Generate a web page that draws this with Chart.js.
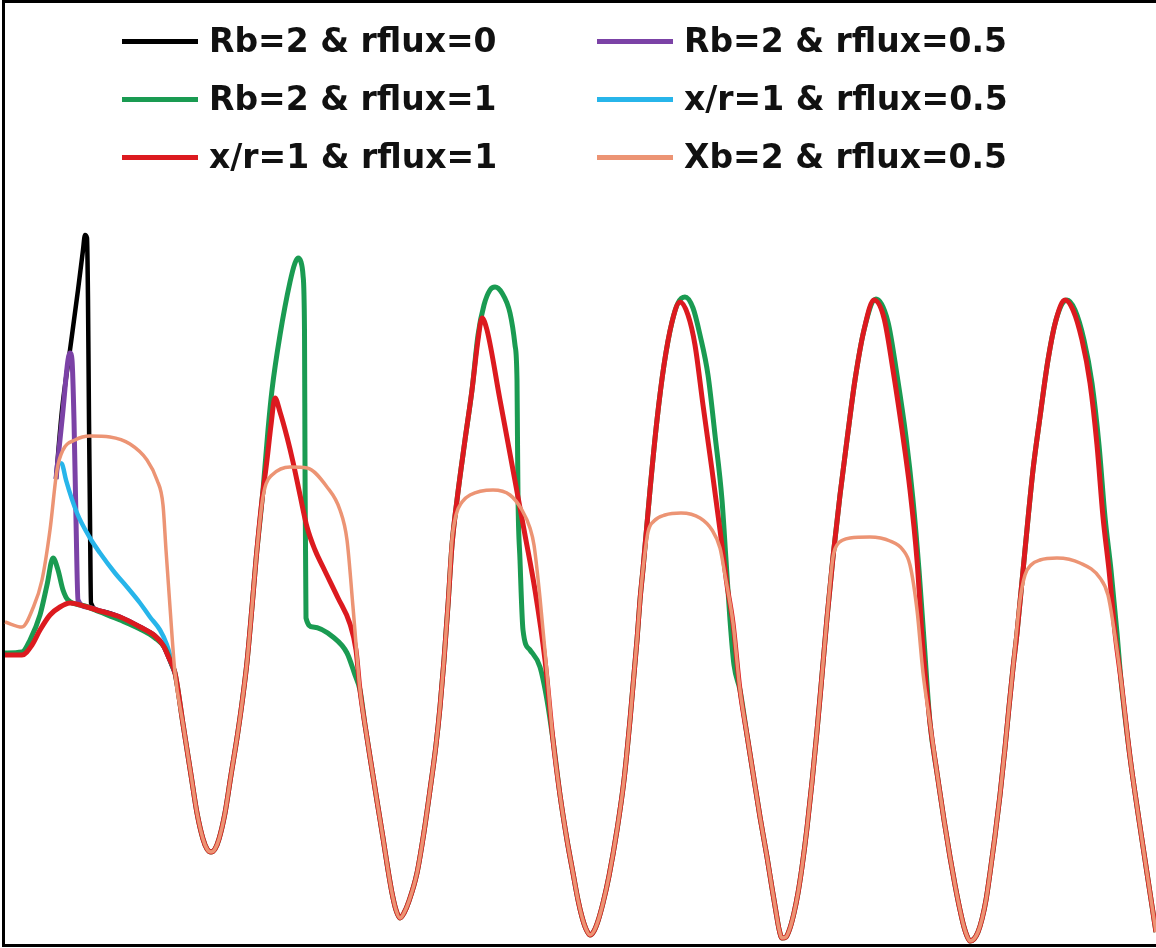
<!DOCTYPE html>
<html>
<head>
<meta charset="utf-8">
<script src="https://cdn.jsdelivr.net/npm/chart.js@4/dist/chart.umd.min.js"></script>
<style>
  html, body { margin: 0; padding: 0; background: #fff; overflow: hidden; }
  #wrap { position: relative; width: 1156px; height: 948px; overflow: hidden; }
  .edge { position: absolute; background: #000; }
  #edgeTop { left: 2px; top: 0; width: 1160px; height: 3px; }
  #edgeLeft { left: 2px; top: 0; width: 3px; height: 947px; }
  #edgeBottom { left: 2px; top: 944px; width: 1160px; height: 3px; }
  #plot { position: absolute; left: 0; top: 0; }
  #legend {
    position: absolute; left: 122px; top: 12px;
    display: grid; grid-template-columns: 475px auto;
    font-family: "DejaVu Sans", sans-serif; font-weight: bold; font-size: 33px;
    color: #111;
  }
  #legend .item { display: flex; align-items: center; height: 58px; line-height: 58px; white-space: nowrap; }
  #legend .swatch { display: inline-block; width: 76px; height: 5px; margin-right: 11px; }
</style>
</head>
<body>
<div id="wrap">
  <div class="edge" id="edgeTop"></div>
  <div class="edge" id="edgeLeft"></div>
  <div class="edge" id="edgeBottom"></div>
  <canvas id="plot" width="1156" height="948"></canvas>
  <div id="legend"></div>
</div>
<script>
// troughs shared by every run once the first transient is over, [time, value]
const dip1 = [[18.3,22.4],[19.1,17.3],[19.7,13.5],[20.3,10.9],[20.7,9.9],[21.1,9.6],[21.5,9.9],[21.9,10.9],
  [22.5,13.5],[23.1,17.3],[23.7,21.0],[24.2,24.5],[24.7,28.6],[25.2,34.1],[25.6,38.8]];
const dip2 = [[36.5,22.3],[37.0,19.1],[37.7,14.7],[38.3,11.0],[38.8,7.8],[39.2,5.5],[39.6,3.8],[40.0,3.0],
  [40.4,3.5],[40.9,4.7],[41.7,7.5],[42.4,11.6],[43.0,15.8],[43.6,20.3],[44.0,24.1],[44.4,28.8],[44.8,34.3]];
const dip3 = [[55.3,20.8],[56.0,15.3],[56.7,10.8],[57.3,7.5],[57.8,4.8],[58.2,3.1],[58.6,1.9],[59.0,1.3],
  [59.4,1.7],[59.8,2.7],[60.3,4.5],[60.9,7.2],[61.7,11.8],[62.4,16.8],[63.0,22.8],[63.7,30.8],[64.0,34.8]];
const dip4 = [[74.7,21.3],[75.3,17.5],[76.0,13.1],[76.7,9.1],[77.2,6.0],[77.6,3.6],[77.9,1.9],[78.2,1.0],
  [78.6,1.1],[79.0,2.0],[79.4,3.5],[79.8,5.5],[80.2,8.1],[80.7,12.0],[81.2,16.6],[81.7,21.7],[82.2,27.3],[82.7,33.0]];
const dip5 = [[93.0,22.5],[93.7,17.5],[94.4,12.8],[95.0,9.1],[95.5,6.3],[96.0,3.8],[96.4,2.1],[96.7,1.2],
  [97.0,0.7],[97.4,0.9],[97.8,1.6],[98.2,2.9],[98.6,4.8],[99.0,7.5],[99.5,11.2],[100.0,15.3],[100.5,20.0],
  [100.9,24.1],[101.3,28.0]];
const tail = [[112.1,26.8],[113.0,19.1],[113.9,12.8],[114.7,7.5],[115.2,4.2],[115.6,1.6]];

// first transient, only where the runs differ
const rb2Flux0 = [
  [5.6,46.9],[6.2,53.8],[7.0,59.8],[7.8,65.8],[8.3,69.8],[8.5,71.3],[8.7,71.0],[8.8,64.8],
  [8.9,52.8],[9.0,42.8],[9.1,34.5],[10.0,33.7],[12.0,33.1],[14.0,32.1],[15.5,31.2],[16.3,30.3],
  [16.9,29.0],[17.5,27.5]
];
const rb2Flux05 = [
  [5.6,46.9],[6.2,52.8],[7.0,59.5],[7.2,58.8],[7.4,52.8],[7.6,42.8],[7.8,34.8],[8.7,34.1],
  [10.0,33.7],[12.0,33.1],[14.0,32.1],[15.5,31.2],[16.3,30.3],[16.9,29.0],[17.5,27.5]
];
const xr1Flux05 = [
  [6.0,48.5],[6.2,48.4],[6.6,46.8],[7.7,43.5],[9.0,41.0],[10.0,39.5],[11.5,37.5],[12.7,36.1],
  [14.0,34.5],[15.0,33.1],[16.0,31.8],[16.7,30.3],[17.5,27.5]
];

// Rb=2 & rflux=1
const rb2Flux1 = [
  [0.5,29.5],[2.2,29.6],[3.0,30.8],[4.0,33.3],[4.7,36.3],[5.3,39.0],[5.8,37.8],[6.3,35.8],
  [6.8,34.8],[8.5,34.2],[10.0,33.6],[12.0,32.8],[14.0,31.9],[15.5,31.0],[16.5,30.0],[17.2,28.3],[17.5,27.5],
  ...dip1,
  [26.3,45.8],[26.8,51.8],[27.2,55.8],[28.0,61.3],[29.0,66.6],[29.5,68.5],[29.8,69.0],[30.1,68.6],
  [30.3,67.3],[30.45,61.8],[30.5,48.5],[30.6,33.0],[31.3,32.1],[33.3,31.1],[34.7,29.5],[35.5,27.3],[36.0,25.8],
  ...dip2,
  [45.2,40.3],[45.7,44.8],[46.5,50.8],[47.2,55.8],[47.8,61.3],[48.4,64.3],[49.0,65.8],[49.5,66.1],
  [50.2,65.5],[51.0,63.5],[51.5,60.3],[51.7,56.8],[51.75,50.8],[51.8,45.1],[52.0,38.8],[52.3,31.8],
  [53.0,29.8],[54.0,28.1],[54.7,24.8],
  ...dip3,
  [64.3,37.9],[65.0,45.8],[65.7,52.8],[66.4,58.3],[67.2,62.6],[67.8,64.5],[68.5,65.1],[69.3,64.0],
  [70.0,61.3],[70.8,57.3],[71.5,51.3],[72.2,44.8],[72.6,38.8],[73.0,32.8],[73.4,28.3],[74.0,25.8],
  ...dip4,
  [83.3,39.1],[84.0,45.3],[84.7,50.8],[85.5,56.8],[86.4,61.8],[87.6,64.9],[88.8,62.6],[89.7,57.3],
  [90.6,51.1],[91.3,44.8],[91.9,37.8],[92.4,30.8],
  ...dip5,
  [101.7,31.5],[102.5,39.8],[103.3,47.8],[104.0,53.1],[104.8,58.8],[105.6,62.8],[106.7,64.8],[107.5,63.8],
  [108.4,60.8],[109.2,56.5],[109.9,50.3],[110.5,43.1],[111.1,37.8],[111.7,31.5],
  ...tail
];

// x/r=1 & rflux=1
const xr1Flux1 = [
  [0.5,29.3],[2.2,29.3],[3.2,30.3],[4.0,31.8],[5.0,33.3],[6.0,34.1],[7.0,34.5],[8.7,34.1],
  [10.0,33.7],[12.0,33.1],[14.0,32.1],[15.5,31.2],[16.3,30.3],[16.9,29.0],[17.5,27.5],
  ...dip1,
  [26.2,44.8],[26.7,48.8],[27.1,52.3],[27.5,55.0],[28.0,53.6],[28.7,51.1],[29.3,48.6],[30.0,45.3],
  [30.7,42.1],[31.5,39.8],[32.3,38.1],[33.8,35.0],[35.0,32.4],[35.6,29.8],[36.0,25.8],
  ...dip2,
  [45.2,40.3],[45.7,44.8],[46.5,50.8],[47.2,55.8],[47.8,60.8],[48.2,63.0],[48.7,61.8],[50.0,54.8],
  [51.3,47.8],[52.5,41.3],[53.5,35.8],[54.5,28.8],
  ...dip3,
  [64.3,37.9],[65.0,45.8],[65.7,52.8],[66.4,58.3],[67.2,62.6],[68.0,64.6],[68.8,63.3],[69.5,60.3],
  [70.3,54.3],[71.2,47.8],[72.0,41.8],[72.7,36.3],[73.3,32.5],[74.0,25.8],
  ...dip4,
  [83.3,39.1],[84.0,45.3],[84.7,50.8],[85.5,56.8],[86.4,61.8],[87.4,64.8],[88.4,63.0],[89.3,57.8],
  [90.2,51.8],[91.0,45.8],[91.7,38.8],[92.3,29.8],
  ...dip5,
  [101.7,31.5],[102.5,39.8],[103.3,47.8],[104.0,53.1],[104.8,58.8],[105.6,62.8],[106.5,64.8],[107.3,63.8],
  [108.2,60.8],[109.0,56.5],[109.7,50.3],[110.3,43.1],[110.9,37.8],[111.5,31.5],
  ...tail
];

// Xb=2 & rflux=0.5
const xb2Flux05 = [
  [0.5,32.6],[2.2,32.1],[3.3,34.0],[4.2,36.8],[5.0,41.8],[5.7,47.8],[6.3,49.8],[7.5,50.8],
  [9.0,51.2],[11.0,51.1],[13.0,50.4],[14.7,48.8],[15.7,46.8],[16.3,44.3],[16.6,39.8],[17.0,34.1],[17.5,27.5],
  ...dip1,
  [26.2,44.5],[26.6,46.4],[27.2,47.3],[29.0,48.1],[30.7,48.0],[32.7,46.1],[34.0,43.8],[34.7,40.8],
  [35.3,34.1],[36.0,25.8],
  ...dip2,
  [45.2,40.8],[45.6,43.3],[46.2,44.6],[47.0,45.3],[49.3,45.8],[51.0,45.3],[52.2,43.8],[53.0,42.0],
  [53.4,40.3],[54.0,35.0],[54.7,27.5],
  ...dip3,
  [64.3,37.9],[64.8,41.6],[65.4,42.7],[66.5,43.3],[68.1,43.5],[70.0,43.0],[71.2,41.8],[72.0,40.0],
  [72.5,37.3],[73.3,32.5],[74.0,25.8],
  ...dip4,
  [83.3,39.1],[83.7,40.3],[84.3,40.8],[85.0,41.0],[87.0,41.1],[89.0,40.7],[90.3,39.8],[91.0,38.3],
  [91.7,33.8],[92.3,27.5],
  ...dip5,
  [102.0,34.8],[102.5,37.3],[103.1,38.3],[104.0,38.8],[105.7,39.0],[108.0,38.5],[110.0,37.0],[110.8,35.3],
  [111.3,32.5],
  ...tail
];

const toPoints = pts => pts.map(([x, y]) => ({ x, y }));

// HTML legend in two columns, built from the datasets
const htmlLegend = {
  id: 'htmlLegend',
  afterUpdate(chart) {
    const box = document.getElementById('legend');
    box.innerHTML = '';
    chart.data.datasets.forEach(ds => {
      const item = document.createElement('div');
      item.className = 'item';
      const swatch = document.createElement('span');
      swatch.className = 'swatch';
      swatch.style.background = ds.borderColor;
      const text = document.createElement('span');
      text.textContent = ds.label;
      item.append(swatch, text);
      box.appendChild(item);
    });
  }
};

function series(label, pts, color, width, order) {
  return {
    label: label,
    data: toPoints(pts),
    borderColor: color,
    backgroundColor: color,
    borderWidth: width,
    pointRadius: 0,
    cubicInterpolationMode: 'monotone',
    borderJoinStyle: 'round',
    fill: false,
    order: order
  };
}

new Chart(document.getElementById('plot'), {
  type: 'line',
  data: {
    datasets: [
      series('Rb=2 & rflux=0', rb2Flux0, '#000000', 4.5, 5),
      series('Rb=2 & rflux=0.5', rb2Flux05, '#7b42a6', 5, 4),
      series('Rb=2 & rflux=1', rb2Flux1, '#1a9b52', 5, 2),
      series('x/r=1 & rflux=0.5', xr1Flux05, '#27b5ea', 4.5, 3),
      series('x/r=1 & rflux=1', xr1Flux1, '#dc1a1f', 5, 1),
      series('Xb=2 & rflux=0.5', xb2Flux05, '#ec9474', 3.5, 0)
    ]
  },
  options: {
    responsive: false,
    animation: false,
    layout: { padding: 0 },
    scales: {
      x: { type: 'linear', min: 0, max: 115.6, display: false },
      y: { min: 0, max: 94.8, display: false }
    },
    plugins: {
      legend: { display: false },
      tooltip: { enabled: false }
    }
  },
  plugins: [htmlLegend]
});
</script>
</body>
</html>
